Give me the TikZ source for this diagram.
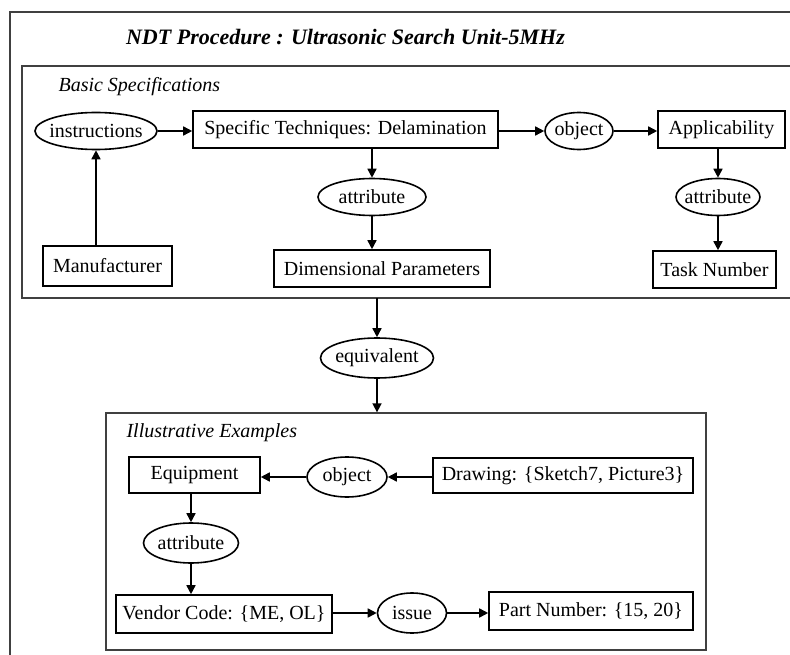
\documentclass[tikz,border=0pt]{standalone}
\usepackage{fontspec}
\setmainfont{Liberation Serif}
\usetikzlibrary{arrows.meta,shapes.geometric,calc}
\begin{document}
\begin{tikzpicture}[x=1pt,y=-1pt,
  every node/.style={font=\fontsize{20}{24}\selectfont},
  box/.style={draw=black,line width=1.6pt,rectangle,inner sep=0pt},
  oval/.style={draw=black,line width=1.6pt,ellipse,inner xsep=-15pt,inner ysep=0pt},
  arr/.style={line width=1.6pt,-{Triangle[length=9pt,width=9pt]}},
  frame/.style={draw=black!75,line width=1.3pt}]
\useasboundingbox (0,0) rectangle (790,655);
% outer frame
\draw[frame] (10,655) -- (10,12) -- (790,12);
\node[font=\fontsize{22}{26}\selectfont\bfseries\itshape] (title) at (345.5,37) {NDT Procedure : Ultrasonic Search Unit-5MHz};
% basic specifications frame
\draw[frame] (790,66) -- (22,66) -- (22,298) -- (790,298);
\coordinate (bsb) at (375,298);
\node[font=\fontsize{20}{24}\selectfont\itshape,anchor=west] (bslabel) at (55,87) {Basic Specifications};
\node[oval,minimum width=122pt,minimum height=37pt] (instr) at (96,131) {instructions};
\node[box,minimum width=305pt,minimum height=37pt] (st) at (345.5,129.5) {Specific Techniques: Delamination};
\node[oval,minimum width=68pt,minimum height=37pt] (obj1) at (579,131) {object};
\node[box,minimum width=127pt,minimum height=37pt] (app) at (721.5,129.5) {Applicability};
\node[oval,minimum width=108pt,minimum height=37pt] (attr1) at (372,197) {attribute};
\node[oval,minimum width=84pt,minimum height=37pt] (attr2) at (718,197) {attribute};
\node[box,minimum width=129pt,minimum height=40pt] (mfr) at (107.5,266) {Manufacturer};
\node[box,minimum width=216pt,minimum height=37pt] (dp) at (382,268.5) {Dimensional Parameters};
\node[box,minimum width=123pt,minimum height=37pt] (task) at (714.5,269.5) {Task Number};
% equivalent
\node[oval,minimum width=113pt,minimum height=40pt] (equiv) at (377,358) {equivalent};
% illustrative frame
\node[frame,rectangle,inner sep=0pt,minimum width=600pt,minimum height=237pt] (illus) at (406,531.5) {};
\node[font=\fontsize{20}{24}\selectfont\itshape,anchor=west] (illabel) at (123,433) {Illustrative Examples};
\node[box,minimum width=131pt,minimum height=36pt] (eq) at (194.5,475) {Equipment};
\node[oval,minimum width=80pt,minimum height=40pt] (obj2) at (347,477) {object};
\node[box,minimum width=260pt,minimum height=35pt] (drw) at (563,475.5) {Drawing: \{Sketch7, Picture3\}};
\node[oval,minimum width=95pt,minimum height=40pt] (attr3) at (191,543) {attribute};
\node[box,minimum width=216pt,minimum height=38pt] (vc) at (224,614) {Vendor Code: \{ME, OL\}};
\node[oval,minimum width=69pt,minimum height=40pt] (issue) at (412,613) {issue};
\node[box,minimum width=204pt,minimum height=38pt] (pn) at (591,611) {Part Number: \{15, 20\}};
% connectors
\draw[arr] (instr.south |- mfr.north) -- (instr.south);
\draw[arr] (instr.east) -- (instr.east -| st.west);
\draw[arr] (st.east |- obj1.west) -- (obj1.west);
\draw[arr] (obj1.east) -- (obj1.east -| app.west);
\draw[arr] (attr1.north |- st.south) -- (attr1.north);
\draw[arr] (attr1.south) -- (attr1.south |- dp.north);
\draw[arr] (attr2.north |- app.south) -- (attr2.north);
\draw[arr] (attr2.south) -- (attr2.south |- task.north);
\draw[arr] (equiv.north |- bsb) -- (equiv.north);
\draw[arr] (equiv.south) -- (equiv.south |- illus.north);
\draw[arr] (obj2.east -| drw.west) -- (obj2.east);
\draw[arr] (obj2.west) -- (obj2.west -| eq.east);
\draw[arr] (attr3.north |- eq.south) -- (attr3.north);
\draw[arr] (attr3.south) -- (attr3.south |- vc.north);
\draw[arr] (issue.west -| vc.east) -- (issue.west);
\draw[arr] (issue.east) -- (issue.east -| pn.west);
\end{tikzpicture}
\end{document}
